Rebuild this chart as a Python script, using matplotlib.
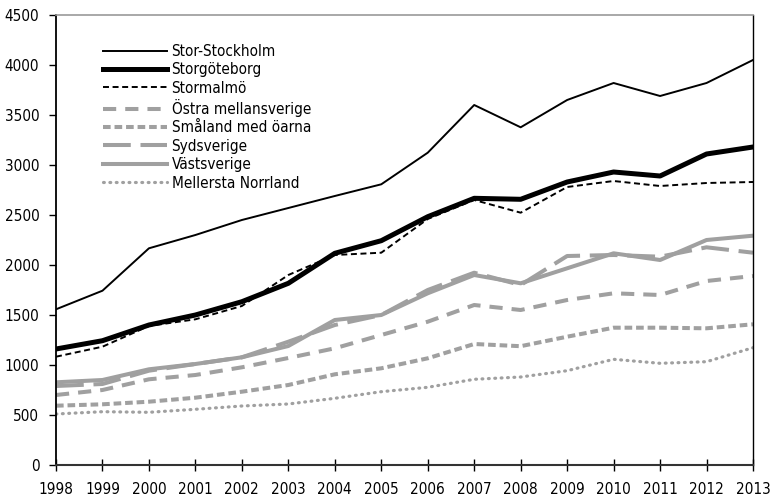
import matplotlib
matplotlib.use('Agg')
import matplotlib.pyplot as plt
from matplotlib import font_manager

# pick a condensed face if one is installed
names = {(f.name, f.stretch) for f in font_manager.fontManager.ttflist}
if any(n == 'Liberation Sans Narrow' for n, s in names):
    plt.rcParams['font.family'] = ['Liberation Sans Narrow', 'DejaVu Sans']
    fs = 12
elif ('DejaVu Sans', 'condensed') in names or ('DejaVu Sans', 'semi-condensed') in names:
    plt.rcParams['font.family'] = ['DejaVu Sans']
    plt.rcParams['font.stretch'] = 'condensed'
    fs = 11
else:
    plt.rcParams['font.family'] = ['Roboto', 'DejaVu Sans']
    fs = 10.5
plt.rcParams['lines.scale_dashes'] = False

years = list(range(1998, 2014))

stor_stockholm = [1557, 1743, 2167, 2300, 2450, 2570, 2690, 2807, 3123, 3600, 3377, 3650, 3820, 3690, 3820, 4050]
storgoteborg = [1160, 1243, 1400, 1500, 1633, 1817, 2117, 2243, 2483, 2667, 2657, 2830, 2930, 2890, 3110, 3180]
stormalmo = [1083, 1183, 1390, 1457, 1590, 1900, 2100, 2123, 2460, 2650, 2523, 2780, 2840, 2790, 2820, 2830]
ostra = [700, 750, 857, 900, 977, 1070, 1167, 1300, 1433, 1600, 1550, 1650, 1717, 1700, 1840, 1890]
smaland = [593, 607, 633, 673, 733, 800, 907, 967, 1067, 1210, 1188, 1283, 1373, 1373, 1367, 1407]
sydsverige = [790, 810, 943, 1010, 1077, 1233, 1400, 1500, 1750, 1923, 1800, 2090, 2100, 2083, 2177, 2123]
vastsverige = [827, 850, 957, 1010, 1077, 1190, 1450, 1500, 1717, 1900, 1817, 1967, 2117, 2050, 2250, 2293]
mellersta = [510, 533, 527, 557, 590, 610, 667, 733, 777, 857, 880, 943, 1057, 1017, 1033, 1173]

gray = '#a0a0a0'

fig = plt.figure(figsize=(7.73, 4.97), dpi=100)
ax = fig.add_axes([56/773, 32/497, 697/773, 450/497])

ax.plot(years, stor_stockholm, color='black', lw=1.4, label='Stor-Stockholm')
ax.plot(years, storgoteborg, color='black', lw=3.6, label='Storgöteborg')
ax.plot(years, stormalmo, color='black', lw=1.4, dashes=(4.3, 2.6), label='Stormalmö')
ax.plot(years, ostra, color=gray, lw=2.9, dashes=(9.5, 6.5), label='Östra mellansverige')
ax.plot(years, smaland, color=gray, lw=2.9, dashes=(5.5, 2.8), label='Småland med öarna')
ax.plot(years, sydsverige, color=gray, lw=2.9, dashes=(20, 7), label='Sydsverige')
ax.plot(years, vastsverige, color=gray, lw=2.9, label='Västsverige')
ax.plot(years, mellersta, color=gray, lw=2.3, dashes=(0.6, 4.0), dash_capstyle='round',
        label='Mellersta Norrland')

ax.set_xlim(1998, 2013)
ax.set_ylim(0, 4500)
ax.set_xticks(years)
ax.set_yticks(range(0, 4501, 500))
ax.tick_params(axis='x', direction='inout', length=8, width=1, pad=8, labelsize=fs)
ax.tick_params(axis='y', direction='out', length=5, width=1, pad=7, labelsize=fs)

ax.spines['top'].set_color('#999999')
ax.spines['top'].set_linewidth(1.2)
ax.spines['right'].set_linewidth(1.0)
ax.spines['left'].set_linewidth(1.3)
ax.spines['bottom'].set_color('#333333')
ax.spines['bottom'].set_linewidth(1.5)

leg = ax.legend(loc='upper left', bbox_to_anchor=(103/773, 1 - 44/497), bbox_transform=fig.transFigure,
                frameon=False, fontsize=fs, handlelength=64/(fs*100/72), handletextpad=0.3,
                labelspacing=0.22, borderpad=0, borderaxespad=0)
for line in leg.get_lines():
    line.set_dash_capstyle('round' if line.get_label() == 'Mellersta Norrland' else 'butt')

fig.savefig('out.png', dpi=100)
